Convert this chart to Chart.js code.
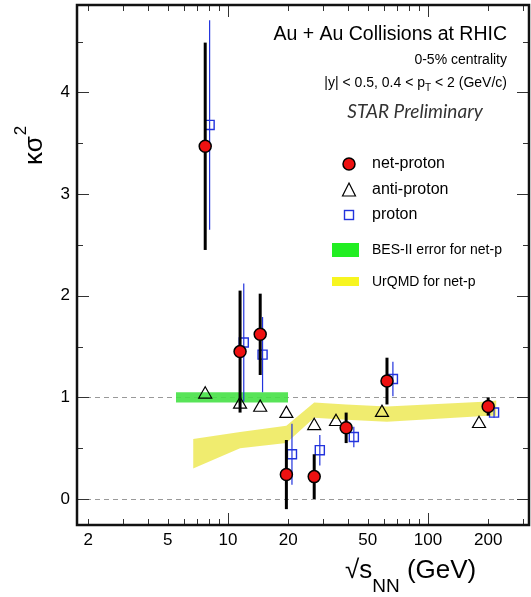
<!DOCTYPE html>
<html>
<head>
<meta charset="utf-8">
<script src="https://cdn.jsdelivr.net/npm/chart.js@4.4.1/dist/chart.umd.min.js"></script>
<style>
    html, body { margin: 0; padding: 0; background: #fff; }
    #wrap { width: 531px; height: 597px; }
</style>
</head>
<body>
<div id="wrap"><canvas id="chart" width="531" height="597"></canvas></div>
<script>
// ==================== DATOS ====================
const energies = [7.7, 11.5, 14.5, 19.6, 27, 39, 62.4, 200];
const netProton = [3.47, 1.45, 1.62, 0.24, 0.22, 0.70, 1.16, 0.91];
const netProtonErr = [1.02, 0.60, 0.40, 0.34, 0.22, 0.15, 0.23, 0.09];

const antiProtonX = [7.7, 11.5, 14.5, 19.6, 27, 34.7, 58.9, 180];
const antiProton = [1.03, 0.93, 0.90, 0.84, 0.72, 0.76, 0.85, 0.74];

const protonX = [8.1, 12.0, 14.9, 20.9, 28.8, 42.6, 66.8, 214];
const proton = [3.68, 1.54, 1.42, 0.44, 0.48, 0.61, 1.18, 0.85];
const protonErr = [1.03, 0.58, 0.37, 0.30, 0.15, 0.10, 0.17, 0.05];

const besX = [5.5, 20];
const besLow = [0.95, 0.95];
const besHigh = [1.05, 1.05];

const urqmdX = [6.7, 11.5, 19.6, 27, 39, 62.4, 200, 220];
const urqmdLow = [0.30, 0.50, 0.55, 0.80, 0.78, 0.76, 0.82, 0.82];
const urqmdHigh = [0.59, 0.66, 0.72, 0.95, 0.93, 0.91, 0.96, 0.97];

const xTickLabels = [2, 5, 10, 20, 50, 100, 200];
const yTickLabels = [0, 1, 2, 3, 4];
const refLines = [0, 1];

const FONT = '"Liberation Sans", Arial, Helvetica, sans-serif';
const RED = '#ee1111';
const BLUE = '#2233dd';

const toPoints = (xs, ys) => xs.map((x, i) => ({ x: x, y: ys[i] }));

// sin relleno extra por etiquetas
const noPadding = s => {
    s.paddingLeft = 0;
    s.paddingRight = 0;
    s.paddingTop = 0;
    s.paddingBottom = 0;
};

// ==================== PLUGINS ====================
// barras de error verticales, debajo de cada marcador
const errorBars = {
    id: 'errorBars',
    beforeDatasetDraw(chart, args) {
        const ds = chart.data.datasets[args.index];
        if (!ds.errors) return;
        const { ctx: c, scales: { x, y } } = chart;
        c.save();
        c.strokeStyle = ds.errorColor;
        c.lineWidth = ds.errorWidth;
        ds.data.forEach((p, i) => {
            const px = x.getPixelForValue(p.x);
            c.beginPath();
            c.moveTo(px, y.getPixelForValue(p.y - ds.errors[i]));
            c.lineTo(px, y.getPixelForValue(p.y + ds.errors[i]));
            c.stroke();
        });
        c.restore();
    }
};

// marco estilo ROOT: lineas de referencia, ticks hacia dentro
const rootFrame = {
    id: 'rootFrame',
    beforeDatasetsDraw(chart) {
        const { ctx: c, chartArea: a, scales: { y } } = chart;
        c.save();
        c.strokeStyle = '#999';
        c.lineWidth = 1;
        c.setLineDash([5, 4]);
        refLines.forEach(v => {
            const py = Math.round(y.getPixelForValue(v)) + 0.5;
            c.beginPath();
            c.moveTo(a.left, py);
            c.lineTo(a.right, py);
            c.stroke();
        });
        c.restore();
    },
    afterDatasetsDraw(chart) {
        const { ctx: c, chartArea: a, scales: { x, y } } = chart;
        c.save();
        c.strokeStyle = '#333';
        c.lineWidth = 1;

        [1, 10, 100].forEach(d => {
            for (let k = 1; k <= 9; k++) {
                const v = k * d;
                if (v < x.min || v > x.max) continue;
                const px = Math.round(x.getPixelForValue(v)) + 0.5;
                const len = k === 1 ? 12 : 6;
                c.beginPath();
                c.moveTo(px, a.bottom); c.lineTo(px, a.bottom - len);
                c.moveTo(px, a.top); c.lineTo(px, a.top + len);
                c.stroke();
            }
        });

        for (let v = 0; v <= 4.5; v += 0.5) {
            const py = Math.round(y.getPixelForValue(v)) + 0.5;
            const len = Number.isInteger(v) ? 12 : 6;
            c.beginPath();
            c.moveTo(a.left, py); c.lineTo(a.left + len, py);
            c.moveTo(a.right, py); c.lineTo(a.right - len, py);
            c.stroke();
        }

        c.strokeStyle = '#111';
        c.lineWidth = 2.5;
        c.strokeRect(a.left, a.top, a.right - a.left, a.bottom - a.top);
        c.restore();
    }
};

// textos, leyenda y titulos de ejes
const annotations = {
    id: 'annotations',
    afterDraw(chart) {
        const c = chart.ctx;
        c.save();
        c.fillStyle = '#000';
        c.textBaseline = 'middle';

        // encabezado
        c.textAlign = 'right';
        c.font = '19.5px ' + FONT;
        c.fillText('Au + Au Collisions at RHIC', 507, 35);
        c.font = '14px ' + FONT;
        c.fillText('0-5% centrality', 507, 60);

        // |y| < 0.5, 0.4 < pT < 2 (GeV/c)
        c.textAlign = 'left';
        const tail = ' < 2 (GeV/c)';
        const head = '|y| < 0.5, 0.4 < p';
        c.font = '14px ' + FONT;
        const wHead = c.measureText(head).width;
        const wTail = c.measureText(tail).width;
        c.font = '10px ' + FONT;
        const wSub = c.measureText('T').width;
        let sx = 507 - wHead - wSub - wTail;
        c.font = '14px ' + FONT;
        c.fillText(head, sx, 83);
        c.font = '10px ' + FONT;
        c.fillText('T', sx + wHead, 88);
        c.font = '14px ' + FONT;
        c.fillText(tail, sx + wHead + wSub, 83);

        c.fillStyle = '#333';
        c.textAlign = 'center';
        c.font = 'italic 19px Lato, "Open Sans", sans-serif';
        c.fillText('STAR Preliminary', 415, 112);

        // leyenda
        const mx = 349;
        c.lineWidth = 1.5;
        c.fillStyle = RED;
        c.strokeStyle = '#000';
        c.beginPath(); c.arc(mx, 164, 6, 0, Math.PI * 2); c.fill(); c.stroke();

        c.lineWidth = 1.2;
        c.beginPath();
        c.moveTo(mx, 183); c.lineTo(mx + 6.5, 196); c.lineTo(mx - 6.5, 196); c.closePath();
        c.stroke();

        c.strokeStyle = BLUE;
        c.lineWidth = 1.4;
        c.strokeRect(mx - 4.5, 210.5, 9, 9);

        c.fillStyle = '#22ee22';
        c.fillRect(332, 243, 27, 14);
        c.fillStyle = '#f7f520';
        c.fillRect(332, 277, 27, 9);

        c.fillStyle = '#000';
        c.textAlign = 'left';
        c.font = '16px ' + FONT;
        c.fillText('net-proton', 372, 164);
        c.fillText('anti-proton', 372, 190);
        c.fillText('proton', 372, 215);
        c.font = '14px ' + FONT;
        c.fillText('BES-II error for net-p', 372, 250);
        c.fillText('UrQMD for net-p', 372, 282);

        // titulo eje Y: κσ²
        c.save();
        c.translate(42, 165);
        c.rotate(-Math.PI / 2);
        c.textBaseline = 'alphabetic';
        c.font = '26px ' + FONT;
        c.fillText('κσ', 0, 0);
        const wk = c.measureText('κσ').width;
        c.font = '17px ' + FONT;
        c.fillText('2', wk + 1, -16);
        c.restore();

        // titulo eje X: √sNN (GeV)
        c.textBaseline = 'alphabetic';
        c.font = '26px ' + FONT;
        let tx = 345;
        c.fillText('√s', tx, 578);
        tx += c.measureText('√s').width;
        c.font = '19px ' + FONT;
        c.fillText('NN', tx, 592);
        tx += c.measureText('NN').width;
        c.font = '26px ' + FONT;
        c.fillText(' (GeV)', tx, 578);

        c.restore();
    }
};

// ==================== GRAFICO ====================
const band = { showLine: true, pointRadius: 0, borderWidth: 0, tension: 0 };

new Chart(document.getElementById('chart'), {
    type: 'scatter',
    data: {
        datasets: [
            {
                ...band, label: 'UrQMD low', order: 10,
                data: toPoints(urqmdX, urqmdLow), fill: false
            },
            {
                ...band, label: 'UrQMD for net-p', order: 9,
                data: toPoints(urqmdX, urqmdHigh), fill: '-1',
                backgroundColor: 'rgba(238, 234, 95, 0.9)'
            },
            {
                ...band, label: 'BES low', order: 8,
                data: toPoints(besX, besLow), fill: false
            },
            {
                ...band, label: 'BES-II error for net-p', order: 7,
                data: toPoints(besX, besHigh), fill: '-1',
                backgroundColor: 'rgba(70, 225, 70, 0.9)'
            },
            {
                label: 'proton', order: 3,
                data: toPoints(protonX, proton),
                errors: protonErr, errorColor: BLUE, errorWidth: 1.2,
                pointStyle: 'rect', pointRadius: 6.4,
                backgroundColor: 'rgba(255,255,255,0)', borderColor: BLUE, borderWidth: 1.4
            },
            {
                label: 'anti-proton', order: 2,
                data: toPoints(antiProtonX, antiProton),
                pointStyle: 'triangle', pointRadius: 7.5,
                backgroundColor: 'rgba(255,255,255,0)', borderColor: '#000', borderWidth: 1.2
            },
            {
                label: 'net-proton', order: 1,
                data: toPoints(energies, netProton),
                errors: netProtonErr, errorColor: '#000', errorWidth: 3,
                pointStyle: 'circle', pointRadius: 6,
                backgroundColor: RED, borderColor: '#000', borderWidth: 1.5
            }
        ]
    },
    options: {
        responsive: false,
        animation: false,
        devicePixelRatio: 1,
        layout: { autoPadding: false, padding: { top: 5, right: 2, left: 0, bottom: 0 } },
        plugins: {
            legend: { display: false },
            tooltip: { enabled: false }
        },
        scales: {
            x: {
                type: 'logarithmic',
                min: 1.76,
                max: 320,
                grid: { display: false, drawTicks: false },
                border: { display: false },
                afterBuildTicks: s => { s.ticks = xTickLabels.map(v => ({ value: v })); },
                afterFit: s => { s.height = 72; noPadding(s); },
                ticks: {
                    color: '#000',
                    font: { family: FONT, size: 17 },
                    padding: 5,
                    maxRotation: 0,
                    autoSkip: false,
                    callback: v => String(v)
                }
            },
            y: {
                min: -0.256,
                max: 4.86,
                grid: { display: false, drawTicks: false },
                border: { display: false },
                afterBuildTicks: s => { s.ticks = yTickLabels.map(v => ({ value: v })); },
                afterFit: s => { s.width = 77; noPadding(s); },
                ticks: {
                    color: '#000',
                    font: { family: FONT, size: 17 },
                    padding: 7,
                    callback: v => String(v)
                }
            }
        }
    },
    plugins: [errorBars, rootFrame, annotations]
});
</script>
</body>
</html>
